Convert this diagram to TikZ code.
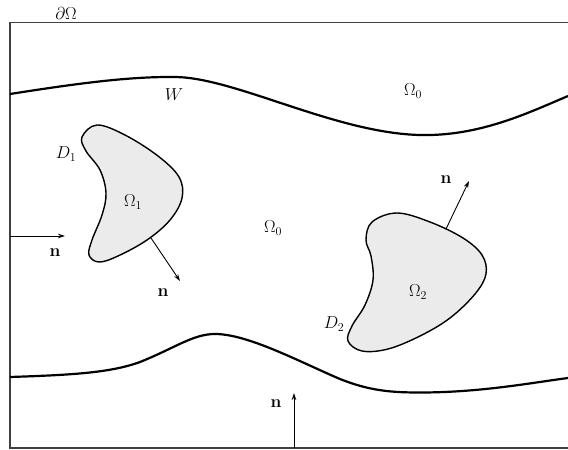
\documentclass[tikz,border=0pt]{standalone}
\usetikzlibrary{arrows.meta}
\begin{document}
\begin{tikzpicture}[x=1pt,y=-1pt,
  frame/.style={draw=black!75,line width=1.1pt},
  wall/.style={draw=black,line width=2.2pt},
  body/.style={draw=black,line width=1.4pt,fill=black!8},
  normal/.style={draw=black,line width=0.9pt,-{Stealth[length=7pt,width=4.5pt]}},
  lbl/.style={inner sep=0pt,font=\fontsize{17}{20}\selectfont}]
\useasboundingbox (0,0) rectangle (568,450);
% frame (open at the right)
\draw[frame] (568,22.5) -- (10,22.5) -- (10,448) -- (568,448);
% walls
\draw[wall] (10,94) .. controls (80,83) and (130,76.5) .. (175,77)
  .. controls (235,77.5) and (335,133) .. (420,135)
  .. controls (480,136.5) and (530,112) .. (568,96);
\draw[wall] (10,377) .. controls (70,375) and (110,373) .. (140,362)
  .. controls (175,348) and (193,334) .. (215,334)
  .. controls (248,334) and (300,362) .. (340,379)
  .. controls (370,391) and (392,392.5) .. (420,392.5)
  .. controls (480,392.5) and (530,383) .. (568,378);
% bodies
\draw[body] plot[smooth cycle,tension=0.6] coordinates {(97,125) (125,135) (158,156) (179,177) (182,198) (170,220) (147,240) (118,256) (99,262) (89,255) (92,240) (102,215) (106,193) (100,170) (86,151) (82,137)};
\draw[body] plot[smooth cycle,tension=0.6] coordinates {(397,213) (430,222) (463,238) (482,255) (486,274) (475,294) (450,318) (420,336) (388,349) (362,351) (348,341) (352,326) (365,305) (373,280) (371,256) (366,240) (372,222)};
% normals
\coordinate (a1) at (10,236); \coordinate (a2) at (65,236);
\coordinate (b1) at (151,238); \coordinate (b2) at (180,281);
\coordinate (c1) at (446,229); \coordinate (c2) at (469,181);
\coordinate (d1) at (294,448); \coordinate (d2) at (294,393);
\draw[normal] (a1) -- (a2);
\draw[normal] (b1) -- (b2);
\draw[normal] (c1) -- (c2);
\draw[normal] (d1) -- (d2);
% labels
\node[lbl] (lbo) at (66,13) {$\partial\Omega$};
\node[lbl] (lw) at (174,95) {$W$};
\node[lbl] (lo0a) at (413,91) {$\Omega_0$};
\node[lbl] (lo0b) at (273,228) {$\Omega_0$};
\node[lbl] (lo1) at (133,202) {$\Omega_1$};
\node[lbl] (lo2) at (418,292) {$\Omega_2$};
\node[lbl] (ld1) at (66,154) {$D_1$};
\node[lbl] (ld2) at (334,324) {$D_2$};
\node[lbl] (ln1) at (55,253) {$\mathbf{n}$};
\node[lbl] (ln2) at (163,293) {$\mathbf{n}$};
\node[lbl] (ln3) at (446,180) {$\mathbf{n}$};
\node[lbl] (ln4) at (276,404) {$\mathbf{n}$};
\end{tikzpicture}
\end{document}
